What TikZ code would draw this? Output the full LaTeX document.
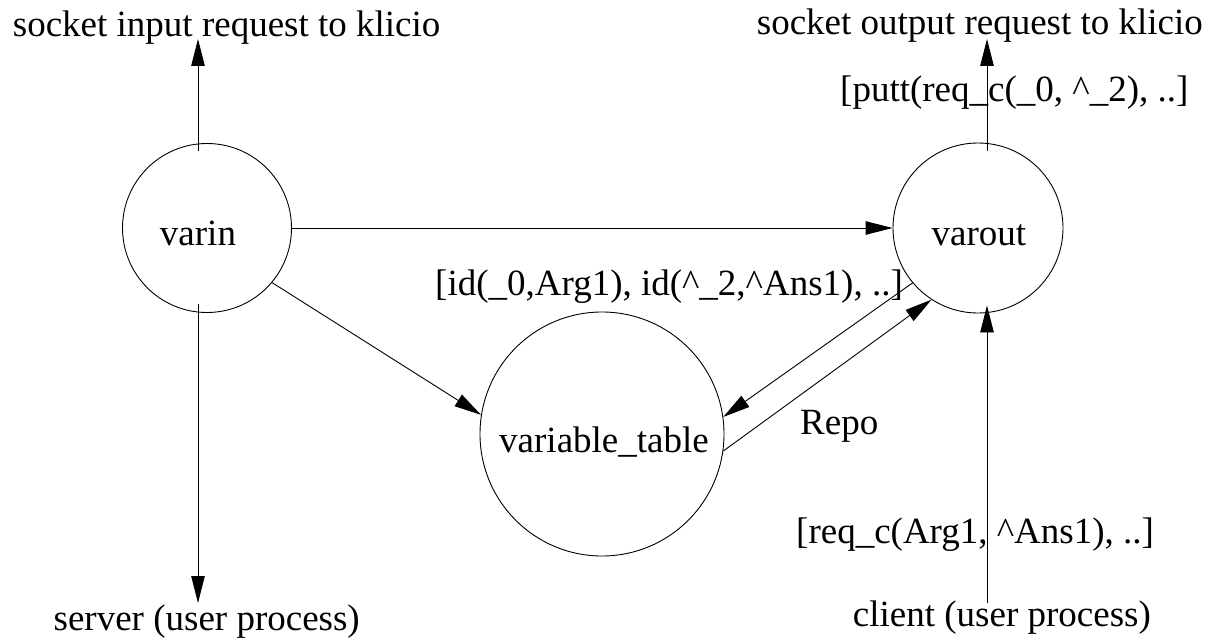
\documentclass[tikz,border=0pt]{standalone}
\usepackage{fontspec}
\setmainfont{Liberation Serif}
\usetikzlibrary{arrows.meta}
\tikzset{
  proc/.style={circle, draw, line width=0.9pt, inner sep=0pt},
  txt/.style={inner sep=0pt, font=\fontsize{37}{44}\selectfont},
  flow/.style={line width=0.9pt, -{Triangle[length=27pt,width=13.5pt]}},
}
\begin{document}
\begin{tikzpicture}[x=1pt, y=-1pt]
\useasboundingbox (0,0) rectangle (1226,642);

% processes
\node[proc, minimum size=169pt] (varin)  at (207,228) {};
\node[proc, minimum size=170pt] (varout) at (978,228) {};
\node[proc, minimum size=244pt] (vtab)   at (602,434) {};

\node[txt, anchor=base] (varinname)  at (198,245) {varin};
\node[txt, anchor=base] (varoutname) at (979,245) {varout};
\node[txt, anchor=base] (vtabname)   at (604,452) {variable\_table};

% external ends
\coordinate (insock)  at (198,39);
\coordinate (server)  at (198,603);
\coordinate (outsock) at (987,39);
\coordinate (client)  at (987,603);

% labels
\node[txt, anchor=base west] (insocklabel)  at (12.7,36.7) {socket input request to klicio};
\node[txt, anchor=base west] (outsocklabel) at (756.7,35) {socket output request to klicio};
\node[txt, anchor=base west] (puttlabel)    at (840,101.7) {[putt(req\_c(\_0, \textasciicircum\_2), ..]};
\node[txt, anchor=base west] (idlabel)      at (435,295) {[id(\_0,Arg1), id(\textasciicircum\_2,\textasciicircum Ans1), ..]};
\node[txt, anchor=base west] (repolabel)    at (800,434) {Repo};
\node[txt, anchor=base west] (reqlabel)     at (796,543) {[req\_c(Arg1, \textasciicircum Ans1), ..]};
\node[txt, anchor=base east] (serverlabel)  at (360,630) {server (user process)};
\node[txt, anchor=base west] (clientlabel)  at (852.7,626.7) {client (user process)};

% connectors
\draw[flow] ([xshift=-9pt,yshift=-8pt]varin.north) -- (insock);
\draw[flow] ([xshift=-9pt,yshift=9pt]varin.south) -- (server);
\draw[flow] (varin.east) -- (varout.west);
\draw[flow] (varin.-40.3) -- (vtab.171.1);
\draw[flow] (varout.220.8) -- (vtab.8.9);
\draw[flow] (vtab.-8.9) -- (varout.237.9);
\draw[flow] (client) -- ([xshift=9pt,yshift=8pt]varout.south);
\draw[flow] ([xshift=9pt,yshift=-8pt]varout.north) -- (outsock);
\end{tikzpicture}
\end{document}
